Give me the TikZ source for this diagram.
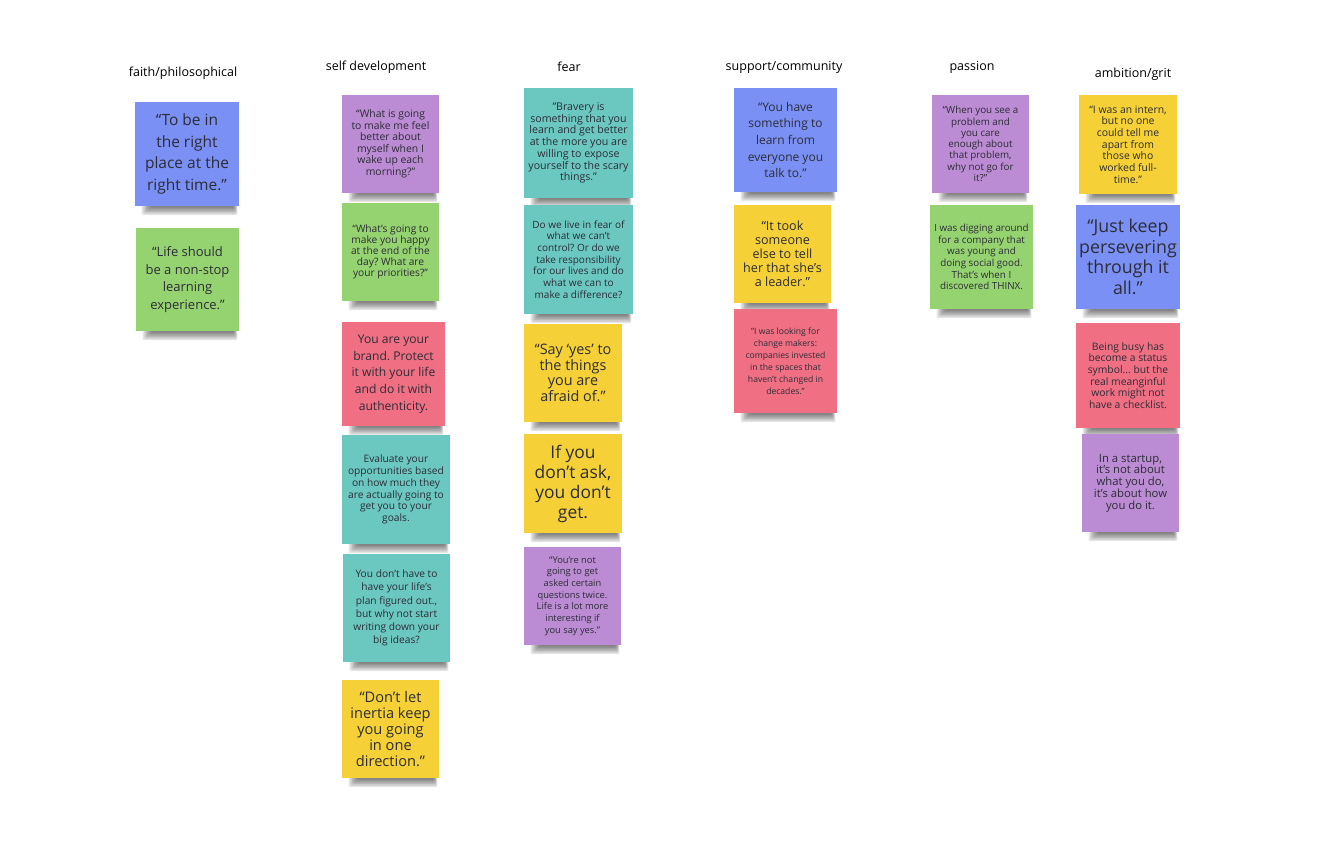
\documentclass[tikz,border=0pt]{standalone}
\usepackage{fontspec}
\setmainfont{Open Sans}
\usetikzlibrary{calc,backgrounds}
\frenchspacing

\definecolor{nblue}{RGB}{122,144,245}
\definecolor{npurple}{RGB}{187,139,211}
\definecolor{ngreen}{RGB}{149,211,112}
\definecolor{npink}{RGB}{240,111,131}
\definecolor{nteal}{RGB}{107,200,192}
\definecolor{nyellow}{RGB}{245,208,54}
\definecolor{ntext}{RGB}{45,45,55}

\newcommand{\fsz}[2]{\fontsize{#1}{#2}\selectfont}

\begin{document}
\begin{tikzpicture}[x=1pt,y=-1pt,
    header/.style={font=\fsz{12.5}{15}, text=black},
    note/.style={rectangle, fill=#1, text=ntext, align=center, inner sep=0pt},
    box/.style 2 args={minimum width=#1pt, minimum height=#2pt}]
    \path[use as bounding box] (0,0) rectangle (1343,858);
    % Titulos das colunas
    \node[header] (hfaith) at (183,73) {faith/philosophical};
    \node[header] (hself) at (376,67) {self development};
    \node[header] (hfear) at (569,67) {fear};
    \node[header] (hsupp) at (784,67) {support/community};
    \node[header] (hpass) at (972,67) {passion};
    \node[header] (hambi) at (1133,74) {ambition/grit};
    % faith/philosophical
    \node[note=nblue, box={104}{104}, font=\fsz{15.5}{21.5}] (faith1) at (187,154)
        {“To be in\\the right\\place at the\\right time.”};
    \node[note=ngreen, box={103}{103}, font=\fsz{13}{17.5}] (faith2) at (187.5,279.5)
        {“Life should\\be a non-stop\\learning\\experience.”};
    % self development
    \node[note=npurple, box={97}{98}, font=\fsz{10.4}{11.5}] (self1) at (390.5,144)
        {“What is going\\to make me feel\\better about\\myself when I\\wake up each\\morning?”};
    \node[note=ngreen, box={97}{98}, font=\fsz{10.2}{11}] (self2) at (390.5,252)
        {“What’s going to\\make you happy\\at the end of the\\day? What are\\your priorities?”};
    \node[note=npink, box={103}{104}, font=\fsz{12.1}{16.7}] (self3) at (393.5,374)
        {You are your\\brand. Protect\\it with your life\\and do it with\\authenticity.};
    \node[note=nteal, box={108}{109}, font=\fsz{10.2}{11.7}] (self4) at (396,489.5)
        {Evaluate your\\opportunities based\\on how much they\\are actually going to\\get you to your\\goals.};
    \node[note=nteal, box={107}{108}, font=\fsz{10.2}{13.3}] (self5) at (396.5,608)
        {You don't have to\\have your life's\\plan figured out.,\\but why not start\\writing down your\\big ideas?};
    \node[note=nyellow, box={97}{98}, font=\fsz{14.6}{16}] (self6) at (390.5,729)
        {“Don’t let\\inertia keep\\you going\\in one\\direction.”};
    % fear
    \node[note=nteal, box={109}{110}, font=\fsz{10.6}{11.7}] (fear1) at (578.5,143)
        {"Bravery is\\something that you\\learn and get better\\at the more you are\\willing to expose\\yourself to the scary\\things."};
    \node[note=nteal, box={109}{109}, font=\fsz{10}{11.7}] (fear2) at (578.5,259.5)
        {Do we live in fear of\\what we can't\\control? Or do we\\take responsibility\\for our lives and do\\what we can to\\make a difference?};
    \node[note=nyellow, box={98}{98}, font=\fsz{14.4}{15.5}] (fear3) at (573,373)
        {“Say ‘yes’ to\\the things\\you are\\afraid of.”};
    \node[note=nyellow, box={98}{99}, font=\fsz{17.4}{20}] (fear4) at (573,483.5)
        {If you\\don't ask,\\you don't\\get.};
    \node[note=npurple, box={97}{98}, font=\fsz{9.3}{11.7}] (fear5) at (572.5,596)
        {“You're not\\going to get\\asked certain\\questions twice.\\Life is a lot more\\interesting if\\you say yes.”};
    % support/community
    \node[note=nblue, box={103}{104}, font=\fsz{12}{16.7}] (supp1) at (785.5,140)
        {“You have\\something to\\learn from\\everyone you\\talk to.”};
    \node[note=nyellow, box={97}{98}, font=\fsz{12.6}{14}] (supp2) at (782.5,254)
        {“It took\\someone\\else to tell\\her that she’s\\a leader.”};
    \node[note=npink, box={103}{104}, font=\fsz{8.6}{12}] (supp3) at (785.5,361)
        {"I was looking for\\change makers:\\companies invested\\in the spaces that\\haven't changed in\\decades."};
    % passion
    \node[note=npurple, box={97}{98}, font=\fsz{9.8}{11.3}] (pass1) at (980.5,144)
        {“When you see a\\problem and\\you care\\enough about\\that problem,\\why not go for\\it?”};
    \node[note=ngreen, box={103}{104}, font=\fsz{9.8}{11.7}] (pass2) at (981.5,257)
        {I was digging around\\for a company that\\was young and\\doing social good.\\That's when I\\discovered THINX.};
    % ambition/grit
    \node[note=nyellow, box={98}{99}, font=\fsz{10.4}{11.7}] (ambi1) at (1128,144.5)
        {“I was an intern,\\but no one\\could tell me\\apart from\\those who\\worked full-\\time.”};
    \node[note=nblue, box={104}{104}, font=\fsz{17.8}{20.5}] (ambi2) at (1128,257)
        {“Just keep\\persevering\\through it\\all.”};
    \node[note=npink, box={104}{105}, font=\fsz{10.3}{11.7}] (ambi3) at (1128,375.5)
        {Being busy has\\become a status\\symbol... but the\\real meanginful\\work might not\\have a checklist.};
    \node[note=npurple, box={97}{98}, font=\fsz{11.3}{11.8}] (ambi4) at (1130.5,483)
        {In a startup,\\it's not about\\what you do,\\it's about how\\you do it.};
    % Fundo e sombras dos post-its
    \begin{scope}[on background layer]
        \fill[white] (0,0) rectangle (1343,858);
        \foreach \n in {faith1,faith2,self1,self2,self3,self4,self5,self6,
                        fear1,fear2,fear3,fear4,fear5,supp1,supp2,supp3,
                        pass1,pass2,ambi1,ambi2,ambi3,ambi4}
            \foreach \k in {1,...,6}
                \fill[black, opacity=0.1, rounded corners=2pt]
                    ($(\n.south west)+(17-1.7*\k,-3)$) rectangle ($(\n.south east)+(-6+0.7*\k,1.5*\k)$);
    \end{scope}
\end{tikzpicture}
\end{document}
